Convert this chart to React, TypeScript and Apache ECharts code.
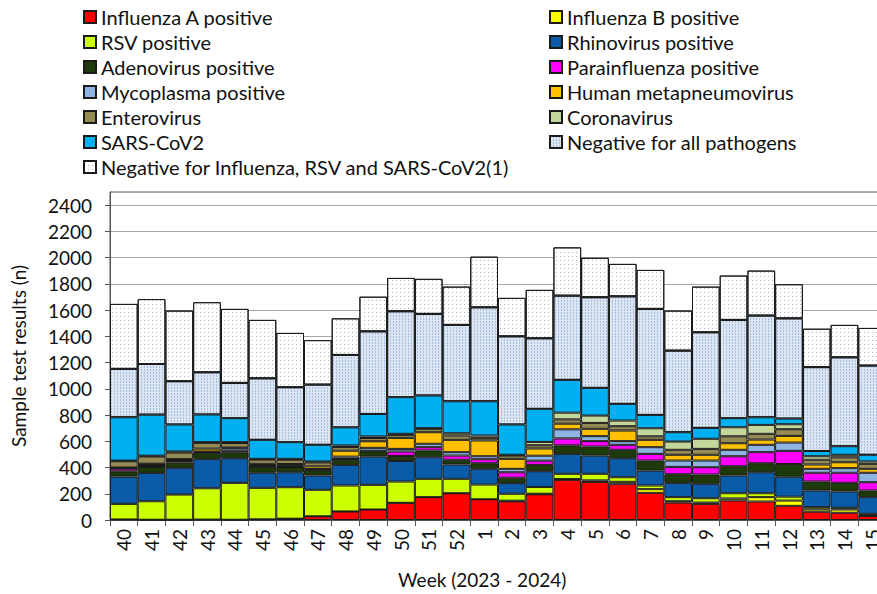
import React, { useEffect, useRef } from "react";
import * as echarts from "echarts";

const weeks = ["40","41","42","43","44","45","46","47","48","49","50","51","52","1","2","3","4","5","6","7","8","9","10","11","12","13","14","15"];

const seriesNames = [
  "Influenza A positive",
  "Influenza B positive",
  "RSV positive",
  "Rhinovirus positive",
  "Adenovirus positive",
  "Parainfluenza positive",
  "Mycoplasma positive",
  "Human metapneumovirus",
  "Enterovirus",
  "Coronavirus",
  "SARS-CoV2",
  "Negative for all pathogens",
  "Negative for Influenza, RSV and SARS-CoV2(1)",
];

const influenzaA = [4, 2, 2, 3, 2, 5, 10, 28, 65, 80, 131, 174, 204, 158, 142, 196, 306, 290, 276, 207, 133, 123, 149, 141, 108, 63, 55, 30];
const influenzaB = [0, 0, 0, 0, 0, 0, 0, 0, 0, 0, 0, 0, 0, 0, 5, 4, 6, 12, 15, 28, 10, 10, 15, 33, 40, 18, 25, 5];
const rsv = [119, 141, 192, 239, 281, 240, 240, 202, 198, 188, 162, 140, 110, 112, 53, 52, 40, 50, 35, 28, 31, 33, 40, 30, 30, 17, 13, 12];
const rhinovirus = [208, 216, 204, 224, 188, 115, 114, 109, 157, 215, 157, 164, 109, 120, 81, 120, 152, 139, 145, 114, 109, 110, 135, 160, 152, 127, 124, 127];
const adenovirus = [40, 45, 40, 46, 45, 43, 40, 40, 40, 40, 38, 52, 36, 43, 41, 48, 65, 69, 64, 76, 66, 71, 71, 69, 97, 68, 66, 51];
const parainfluenza = [20, 15, 12, 5, 12, 10, 6, 5, 5, 5, 34, 25, 32, 30, 42, 32, 53, 41, 38, 51, 56, 55, 76, 84, 100, 67, 77, 63];
const mycoplasma = [4, 5, 8, 5, 18, 5, 5, 5, 18, 22, 20, 26, 26, 23, 26, 38, 69, 38, 28, 51, 48, 51, 49, 56, 63, 30, 35, 72];
const metapneumovirus = [5, 5, 6, 22, 6, 10, 12, 20, 45, 50, 84, 88, 94, 120, 76, 55, 43, 56, 81, 56, 44, 44, 50, 40, 51, 33, 45, 30];
const enterovirus = [48, 55, 50, 44, 35, 32, 32, 30, 28, 25, 23, 26, 33, 20, 25, 25, 33, 45, 33, 27, 38, 45, 53, 44, 51, 36, 38, 38];
const coronavirus = [5, 6, 8, 5, 6, 6, 7, 7, 12, 12, 8, 5, 17, 18, 6, 25, 51, 56, 43, 61, 63, 77, 69, 68, 38, 27, 19, 18];
const sarsCoV2 = [330, 313, 206, 211, 183, 145, 127, 127, 138, 171, 279, 249, 244, 261, 231, 252, 250, 211, 127, 102, 71, 83, 69, 58, 43, 40, 65, 51];
const negativeAll = [369, 386, 330, 322, 269, 469, 419, 459, 552, 630, 655, 622, 582, 716, 672, 538, 642, 691, 820, 808, 622, 729, 749, 775, 764, 639, 678, 680];
const negativeIRS = [495, 495, 538, 534, 564, 445, 414, 339, 279, 264, 254, 267, 292, 386, 293, 369, 368, 300, 247, 297, 305, 348, 338, 343, 260, 293, 247, 287];

const seriesValues = [
  influenzaA, influenzaB, rsv, rhinovirus, adenovirus, parainfluenza, mycoplasma,
  metapneumovirus, enterovirus, coronavirus, sarsCoV2, negativeAll, negativeIRS,
];

const colors = [
  "#ff0000", "#ffff00", "#ccff00", "#0a5ca8", "#1d3a0b", "#ff00ff", "#8db4e2",
  "#ffc000", "#948a54", "#c4d79b", "#00b0f0", "#dce6f2", "#ffffff",
];

const leftLegend = [0, 2, 4, 6, 8, 10, 12].map((i) => seriesNames[i]);
const rightLegend = [1, 3, 5, 7, 9, 11].map((i) => seriesNames[i]);

const FONT = "Lato";

export default function App() {
  const ref = useRef<HTMLDivElement>(null);

  useEffect(() => {
    document.body.style.margin = "0";
    const chart = echarts.init(ref.current!, null, { renderer: "svg" });

    const series = seriesNames.map((name, i) => {
      const itemStyle: any = {
        color: colors[i],
        borderColor: "#1a1a1a",
        borderWidth: 1,
      };
      if (i === 11) {
        itemStyle.decal = {
          symbol: "rect",
          symbolSize: 1,
          color: "rgba(110,150,205,0.5)",
          dashArrayX: [1, 2],
          dashArrayY: [2, 1],
          rotation: 0,
        };
      }
      if (i === 12) {
        itemStyle.decal = {
          symbol: "rect",
          symbolSize: 1,
          color: "rgba(120,135,160,0.6)",
          dashArrayX: [1, 3],
          dashArrayY: [1, 3],
          rotation: 0,
        };
      }
      return {
        name,
        type: "bar",
        stack: "total",
        barCategoryGap: "0%",
        data: seriesValues[i],
        itemStyle,
        emphasis: { disabled: true },
      };
    });

    const legendCommon = {
      orient: "vertical",
      top: 2,
      itemWidth: 12,
      itemHeight: 12,
      itemGap: 5,
      icon: "rect",
      selectedMode: false,
      textStyle: { fontFamily: FONT, fontSize: 20, color: "#111", lineHeight: 20 },
    };

    chart.setOption({
      animation: false,
      backgroundColor: "#ffffff",
      legend: [
        { ...legendCommon, left: 78, data: leftLegend },
        { ...legendCommon, left: 544, data: rightLegend },
      ],
      grid: {
        left: 110,
        width: 776,
        top: 192,
        height: 328,
        show: true,
        borderColor: "#555",
        borderWidth: 1,
        containLabel: false,
        outerBoundsMode: "none",
      },
      xAxis: {
        type: "category",
        data: weeks,
        boundaryGap: true,
        axisLine: { lineStyle: { color: "#555", width: 1 } },
        axisTick: { show: true, length: 6, lineStyle: { color: "#555" } },
        axisLabel: {
          rotate: 90,
          margin: 9,
          fontFamily: FONT,
          fontSize: 19,
          color: "#111",
          interval: 0,
        },
      },
      yAxis: {
        type: "value",
        min: 0,
        max: 2500,
        interval: 200,
        name: "Sample test results (n)",
        nameLocation: "middle",
        nameGap: 82,
        nameTextStyle: { fontFamily: FONT, fontSize: 19, color: "#111" },
        axisLine: { show: true, lineStyle: { color: "#555", width: 1 } },
        axisTick: { show: true, length: 5, lineStyle: { color: "#555" } },
        axisLabel: {
          showMaxLabel: false,
          margin: 18,
          fontFamily: FONT,
          fontSize: 19,
          color: "#111",
          formatter: (v: number) => String(v),
        },
        splitLine: { show: true, lineStyle: { color: "#a6a6a6", width: 1 } },
      },
      graphic: [
        {
          type: "text",
          left: 398,
          top: 570,
          style: {
            text: "Week (2023 - 2024)",
            font: `19px ${FONT}`,
            fill: "#111",
          },
        },
      ],
      series,
    });

    return () => chart.dispose();
  }, []);

  return <div ref={ref} style={{ width: 877, height: 594 }} />;
}
